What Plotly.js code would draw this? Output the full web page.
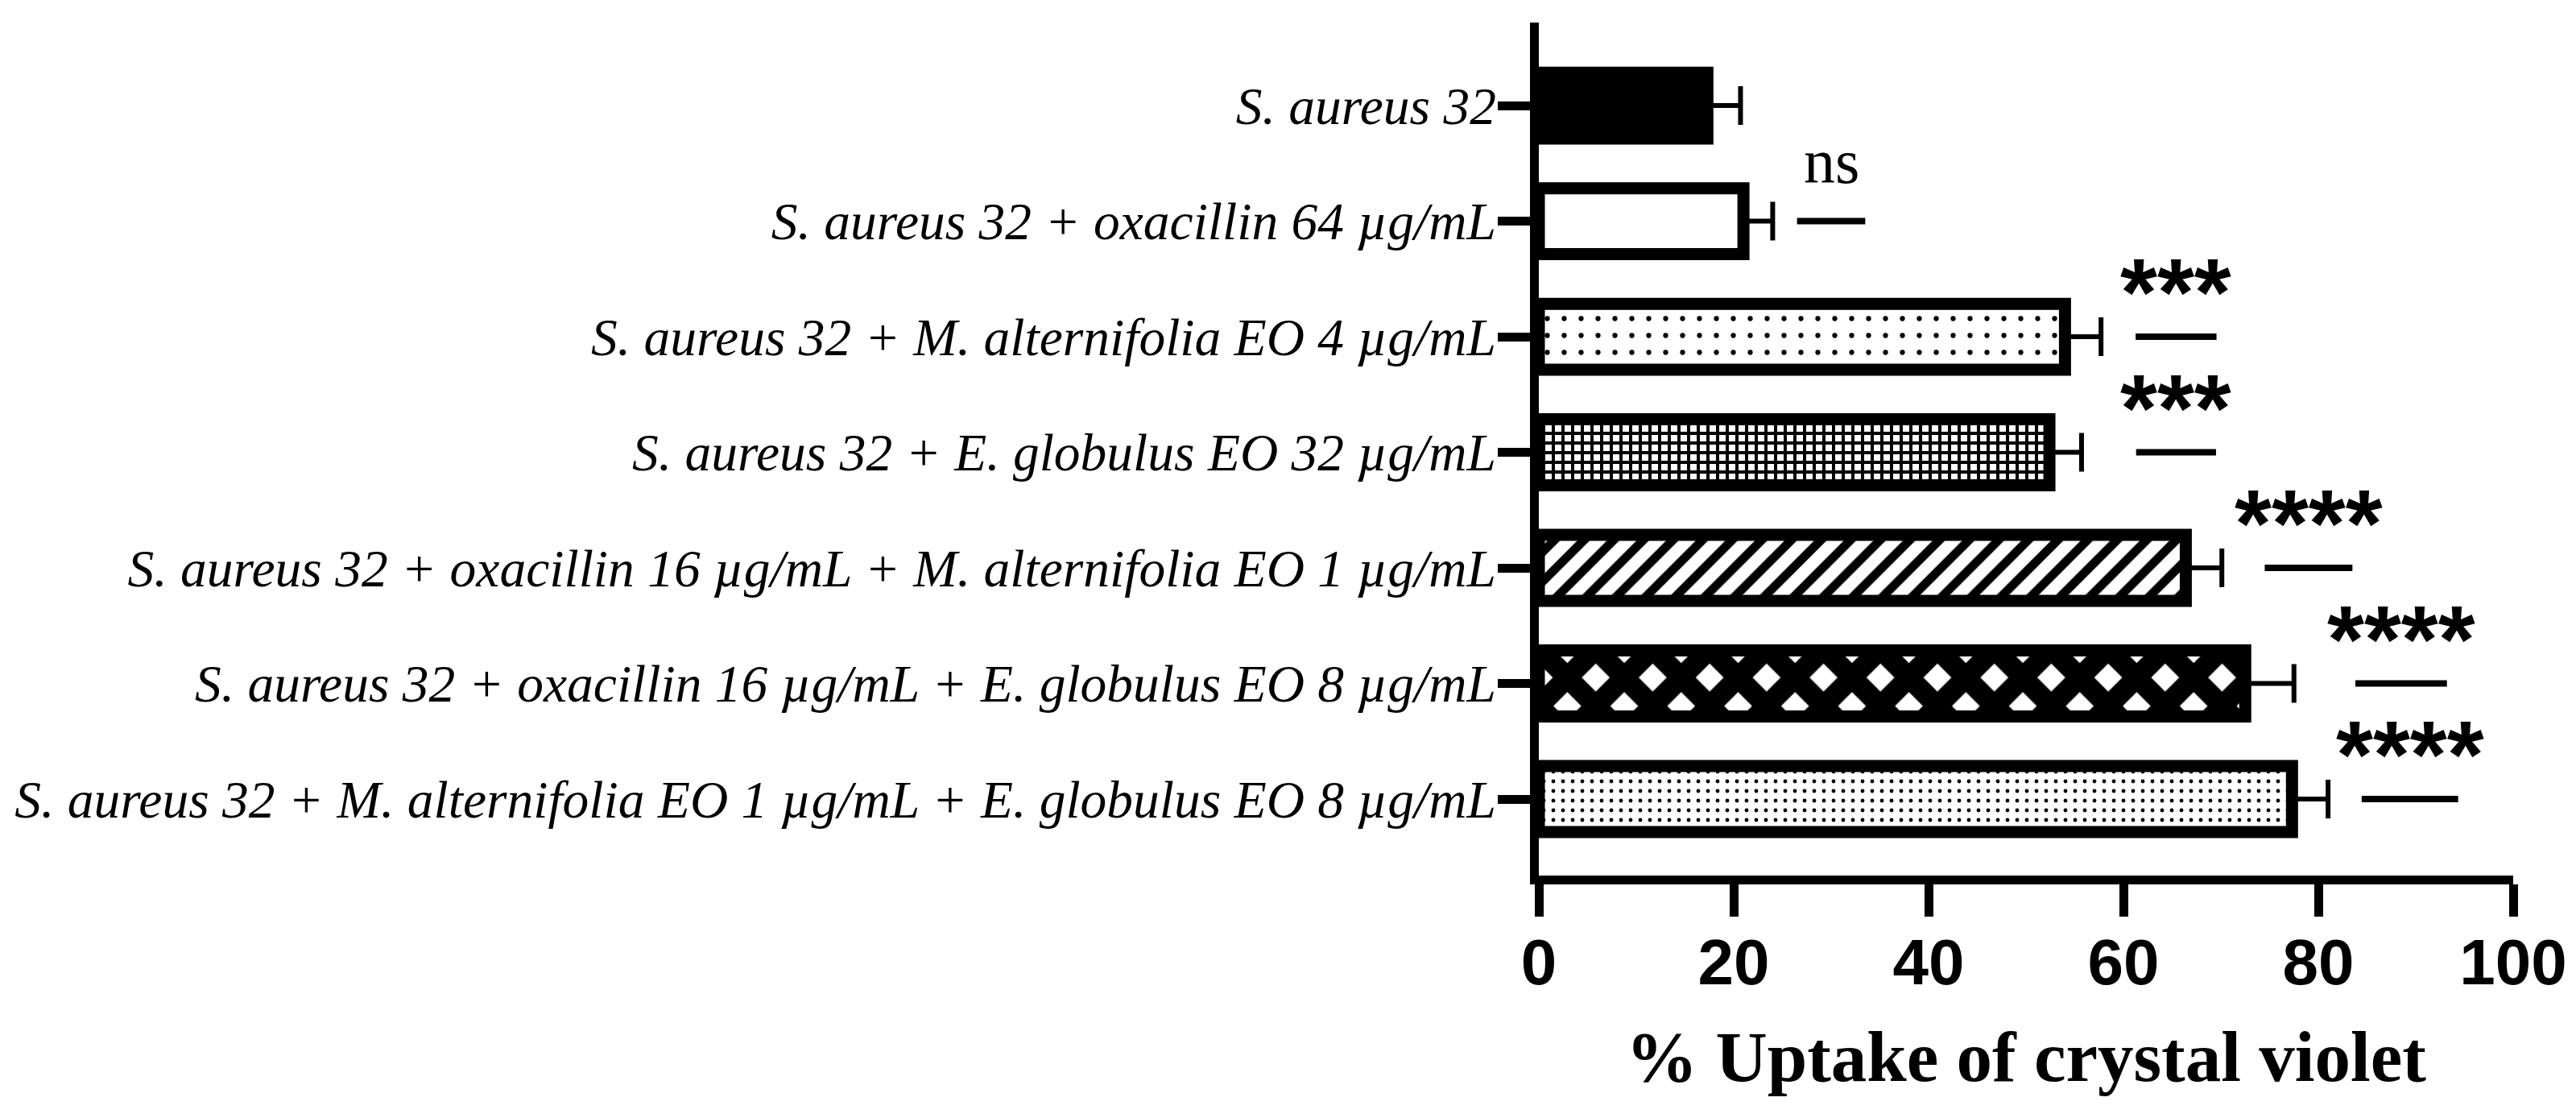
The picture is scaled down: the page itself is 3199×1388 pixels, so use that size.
<!DOCTYPE html>
<html>
<head>
<meta charset="utf-8">
<script src="https://cdn.plot.ly/plotly-3.0.1.min.js"></script>
<style>html,body{margin:0;padding:0;background:#fff;}#chart{width:3199px;height:1388px;}</style>
</head>
<body>
<div id="chart"></div>
<script>
// ---- data ----
const categories = [
  "S. aureus 32",
  "S. aureus 32 + oxacillin 64 µg/mL",
  "S. aureus 32 + M. alternifolia EO 4 µg/mL",
  "S. aureus 32 + E. globulus EO 32 µg/mL",
  "S. aureus 32 + oxacillin 16 µg/mL + M. alternifolia EO 1 µg/mL",
  "S. aureus 32 + oxacillin 16 µg/mL + E. globulus EO 8 µg/mL",
  "S. aureus 32 + M. alternifolia EO 1 µg/mL + E. globulus EO 8 µg/mL"
];
const uptake = [17.3, 21.0, 54.0, 52.4, 66.4, 72.5, 77.3];
const sd     = [3.4, 3.0, 3.7, 3.3, 3.7, 5.0, 3.7];
const significance = ["", "ns", "***", "***", "****", "****", "****"];
const sigCenter    = [null, 30.0, 65.4, 65.4, 79.0, 88.5, 89.4];
const sigLineLen   = [0, 7.0, 8.3, 8.2, 9.0, 9.4, 9.9];
const xTicks = [0, 20, 40, 60, 80, 100];

// ---- styling ----
const patShapes   = ["", "", ".", "+", "/", "x", "."];
const patSizes    = [10, 10, 21, 12, 26, 50, 12];
const patSolidity = [0.3, 0.3, 0.07, 0.55, 0.42, 0.76, 0.13];
const barColors   = ["black", "white", "white", "white", "white", "white", "white"];

const traces = categories.map((c, i) => ({
  type: "bar",
  orientation: "h",
  x: [uptake[i]],
  y: [i],
  width: 0.57,
  marker: {
    color: barColors[i],
    line: {color: "black", width: 15},
    pattern: patShapes[i] ? {
      shape: patShapes[i],
      size: patSizes[i],
      solidity: patSolidity[i],
      fgcolor: "black",
      bgcolor: "white",
      fillmode: "replace"
    } : undefined
  },
  error_x: {
    type: "data",
    symmetric: false,
    array: [sd[i]],
    arrayminus: [0],
    color: "black",
    thickness: 6,
    width: 24
  },
  hoverinfo: "skip"
}));

const shapes = [];
const annotations = [];
significance.forEach((s, i) => {
  if (!s) return;
  shapes.push({
    type: "line", xref: "x", yref: "y",
    x0: sigCenter[i] - sigLineLen[i] / 2, x1: sigCenter[i] + sigLineLen[i] / 2,
    y0: i, y1: i,
    line: {color: "black", width: 8}
  });
  const isNs = s === "ns";
  annotations.push({
    xref: "x", yref: "y", x: sigCenter[i], y: i,
    text: s, showarrow: false,
    xanchor: "center", yanchor: "middle",
    yshift: isNs ? 74 : 55,
    font: isNs
      ? {family: "Liberation Serif", size: 78, color: "black"}
      : {family: "Liberation Sans", size: 118, color: "black", weight: "bold"}
  });
});

const layout = {
  width: 3199, height: 1388,
  paper_bgcolor: "white", plot_bgcolor: "white",
  margin: {l: 1911, r: 78, t: 28, b: 301, pad: 0},
  showlegend: false,
  barmode: "overlay",
  xaxis: {
    range: [0, 100],
    tickvals: xTicks,
    ticktext: xTicks.map(String),
    showgrid: false, zeroline: false,
    showline: true, linecolor: "black", linewidth: 11,
    ticks: "outside", ticklen: 40, tickwidth: 11, tickcolor: "black",
    ticklabelstandoff: -12,
    tickfont: {family: "Liberation Sans", size: 80, color: "black", weight: "bold"},
    title: {
      text: "% Uptake of crystal violet",
      font: {family: "Liberation Serif", size: 89, color: "black", weight: "bold"},
      standoff: 46
    }
  },
  yaxis: {
    type: "linear",
    range: [6.662, -0.718],
    tickvals: categories.map((_, i) => i),
    ticktext: categories,
    showgrid: false, zeroline: false,
    showline: true, linecolor: "black", linewidth: 11,
    ticks: "outside", ticklen: 40, tickwidth: 11, tickcolor: "black",
    ticklabelstandoff: -11,
    tickfont: {family: "Liberation Serif", size: 65.5, color: "black", style: "italic"}
  },
  shapes: shapes,
  annotations: annotations
};

Plotly.newPlot("chart", traces, layout, {displayModeBar: false});
</script>
</body>
</html>
